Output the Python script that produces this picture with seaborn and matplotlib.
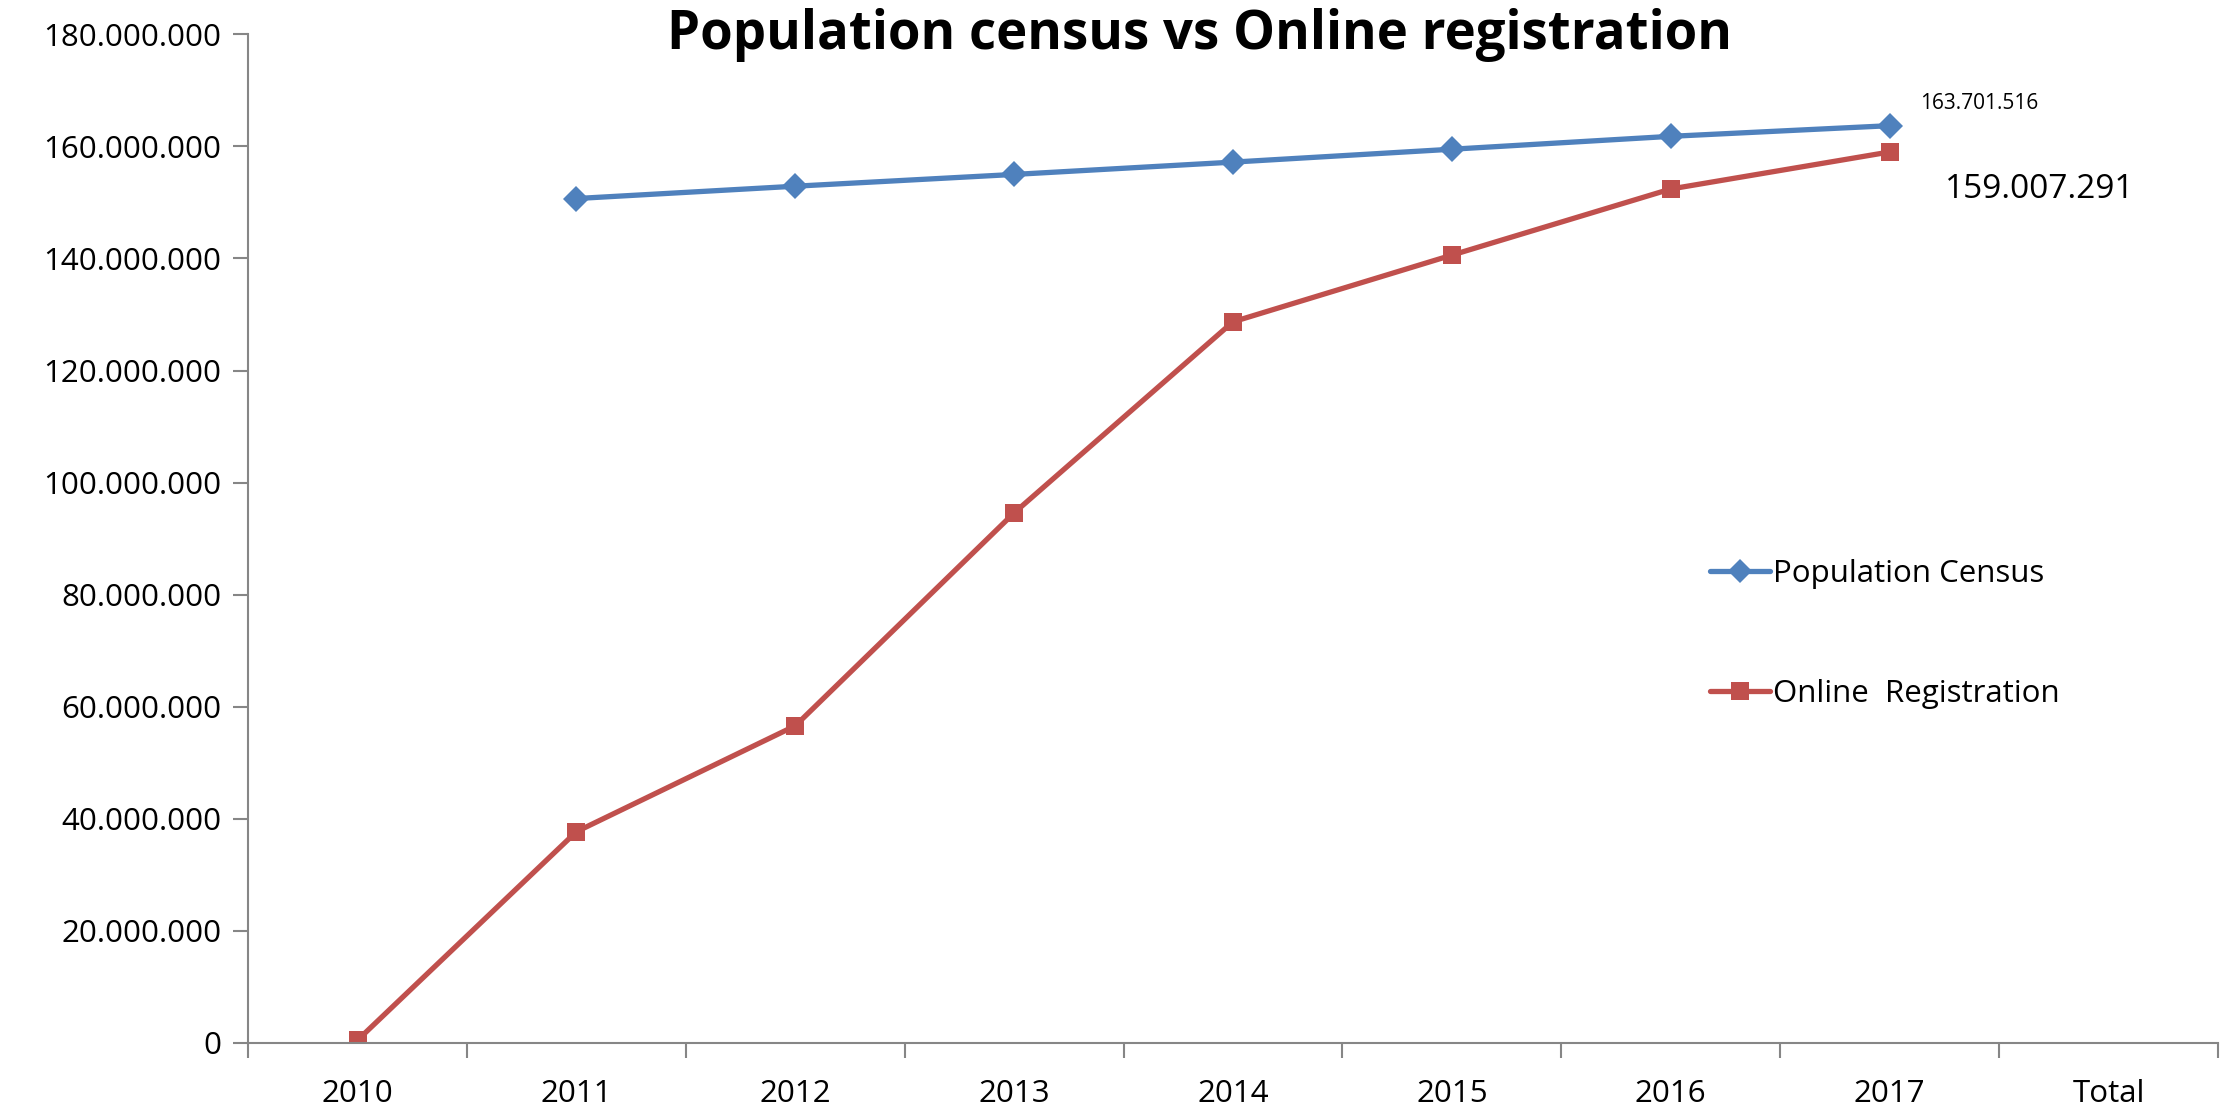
import numpy as np
import pandas as pd
import matplotlib
matplotlib.use('Agg')
import matplotlib.pyplot as plt
import seaborn as sns

# podaci ocitani s grafa
categories = ['2010', '2011', '2012', '2013', '2014', '2015', '2016', '2017', 'Total']
census = [np.nan, 150.7e6, 152.9e6, 155.0e6, 157.2e6, 159.5e6, 161.8e6, 163701516, np.nan]
online = [0.5e6, 37.7e6, 56.6e6, 94.6e6, 128.7e6, 140.6e6, 152.4e6, 159007291, np.nan]
series_names = ['Population Census', 'Online  Registration']
y_ticks = [0, 20e6, 40e6, 60e6, 80e6, 100e6, 120e6, 140e6, 160e6, 180e6]

sns.set_style('white')
plt.rcParams['font.family'] = ['Open Sans', 'DejaVu Sans']
plt.rcParams['text.color'] = 'black'
plt.rcParams['xtick.color'] = '#868686'
plt.rcParams['ytick.color'] = '#868686'

df = pd.DataFrame({
    'pos': list(range(len(categories))) * 2,
    'value': census + online,
    'series': [series_names[0]] * len(categories) + [series_names[1]] * len(categories),
})
df = df.dropna()

fig = plt.figure(figsize=(22.21, 11.08), dpi=100)
ax = fig.add_axes([0.1117, 0.0587, 0.8869, 0.9103])

sns.lineplot(data=df, x='pos', y='value', hue='series', style='series',
             palette={series_names[0]: '#4F81BD', series_names[1]: '#C0504D'},
             markers={series_names[0]: 'D', series_names[1]: 's'},
             dashes=False, linewidth=3.8, markersize=13, markeredgewidth=0,
             ax=ax)

ax.set_xlim(-0.5, len(categories) - 0.5)
ax.set_ylim(0, 180e6)
ax.set_yticks(y_ticks)
ax.set_yticklabels(['0' if v == 0 else f'{int(v):,}'.replace(',', '.') for v in y_ticks])
ax.set_xticks(range(len(categories)))
ax.set_xticklabels(categories)
ax.set_xticks(np.arange(-0.5, len(categories)), minor=True)
ax.tick_params(axis='x', which='major', bottom=True, length=0, pad=26,
               labelsize=22.5, labelcolor='black')
ax.tick_params(axis='x', which='minor', bottom=True, length=11, width=1.5)
ax.tick_params(axis='y', left=True, length=11, width=1.5, labelsize=22.5,
               labelcolor='black', pad=8)
ax.set_xlabel('')
ax.set_ylabel('')

for side in ['top', 'right']:
    ax.spines[side].set_visible(False)
for side in ['left', 'bottom']:
    ax.spines[side].set_color('#868686')
    ax.spines[side].set_linewidth(1.5)

ax.set_title('Population census vs Online registration', fontsize=38,
             fontweight='bold', x=0.483, y=0.977, color='black')

# oznake vrijednosti za 2017
ax.annotate(f'{census[7]:,.0f}'.replace(',', '.'), xy=(7, census[7]),
            xytext=(22, 12), textcoords='offset points', fontsize=15)
ax.annotate(f'{online[7]:,.0f}'.replace(',', '.'), xy=(7, online[7]),
            xytext=(40, -33), textcoords='offset points', fontsize=24)

leg = ax.legend(loc='upper left', bbox_to_anchor=(0.728, 0.508), frameon=False,
                fontsize=22.5, labelspacing=2.9, handlelength=1.9, handletextpad=0.1,
                markerscale=0.95)
for txt in leg.get_texts():
    txt.set_color('black')

fig.savefig('out.png', dpi=100)
